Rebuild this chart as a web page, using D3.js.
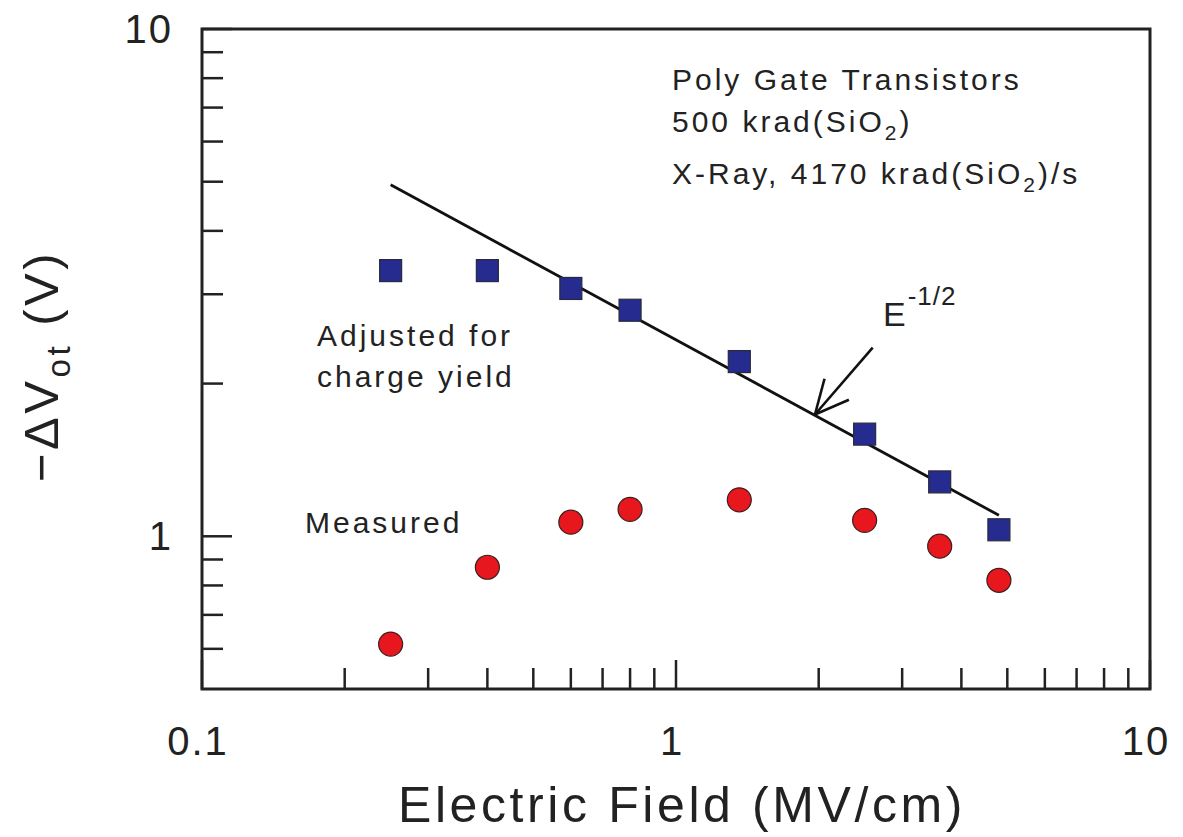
<!DOCTYPE html>
<html>
<head>
<meta charset="utf-8">
<script src="https://cdn.jsdelivr.net/npm/d3@7"></script>
<style>
  html, body { margin: 0; padding: 0; background: #fff; }
  svg { display: block; }
  text { font-family: "Liberation Sans", Arial, sans-serif; fill: #222; }
</style>
</head>
<body>
<svg id="chart" width="1183" height="837"></svg>
<script>
// ---- data ----
const fieldMVcm   = [0.25, 0.4, 0.6, 0.8, 1.36, 2.5, 3.6, 4.8];
const adjustedV   = [3.34, 3.34, 3.08, 2.79, 2.21, 1.59, 1.28, 1.03];
const measuredV   = [0.613, 0.869, 1.066, 1.13, 1.18, 1.075, 0.956, 0.819];
const fitLineX    = [0.25, 4.8];
const fitLineY    = [4.93, 1.10];
const arrowFrom   = [2.60, 2.355];
const arrowTo     = [1.964, 1.738];
const xMajorTicks = [0.1, 1, 10];
const xTickLabels = ["0.1", "1", "10"];
const yMajorTicks = [1, 10];
const yTickLabels = ["1", "10"];
const xDomain = [0.1, 10];
const yDomain = [0.5, 10];

const svg = d3.select("#chart");
const m = {left: 202, top: 29, right: 1183 - 1150, bottom: 837 - 689};
const W = 1183 - m.left - m.right, H = 837 - m.top - m.bottom;

const x = d3.scaleLog().domain(xDomain).range([0, W]);
const y = d3.scaleLog().domain(yDomain).range([H, 0]);

const g = svg.append("g").attr("transform", `translate(${m.left},${m.top})`);

// minor ticks
const xMinor = [];
[0.1, 1].forEach(d => { for (let k = 2; k <= 9; k++) xMinor.push(+(d * k).toFixed(3)); });
const yMinor = [];
[0.1, 1].forEach(d => { for (let k = 2; k <= 9; k++) { const v = +(d * k).toFixed(3); if (v > yDomain[0] && v < yDomain[1]) yMinor.push(v); } });

const tickColor = "#222";
g.selectAll(".xminor").data(xMinor).enter().append("line")
  .attr("x1", d => x(d)).attr("x2", d => x(d)).attr("y1", H).attr("y2", H - 21)
  .attr("stroke", tickColor).attr("stroke-width", 2.5);
g.selectAll(".xmajor").data(xMajorTicks).enter().append("line")
  .attr("x1", d => x(d)).attr("x2", d => x(d)).attr("y1", H).attr("y2", H - 29)
  .attr("stroke", tickColor).attr("stroke-width", 2.5);
g.selectAll(".yminor").data(yMinor).enter().append("line")
  .attr("y1", d => y(d)).attr("y2", d => y(d)).attr("x1", 0).attr("x2", 21)
  .attr("stroke", tickColor).attr("stroke-width", 2.5);
g.selectAll(".ymajor").data(yMajorTicks).enter().append("line")
  .attr("y1", d => y(d)).attr("y2", d => y(d)).attr("x1", 0).attr("x2", 30)
  .attr("stroke", tickColor).attr("stroke-width", 2.5);

// frame
g.append("rect").attr("x", 0).attr("y", 0).attr("width", W).attr("height", H)
  .attr("fill", "none").attr("stroke", "#222").attr("stroke-width", 3);

// tick labels
g.selectAll(".xlab").data(xMajorTicks).enter().append("text")
  .attr("x", d => x(d) - 4).attr("y", H + 66)
  .attr("text-anchor", "middle").attr("font-size", 40).attr("letter-spacing", 2)
  .text((d, i) => xTickLabels[i]);
g.selectAll(".ylab").data(yMajorTicks).enter().append("text")
  .attr("x", -29).attr("y", d => y(d) + 14)
  .attr("text-anchor", "end").attr("font-size", 40).attr("letter-spacing", 2)
  .text((d, i) => yTickLabels[i]);

// axis titles
svg.append("text").attr("x", 682).attr("y", 822)
  .attr("text-anchor", "middle").attr("font-size", 50).attr("letter-spacing", 3.6)
  .text("Electric Field (MV/cm)");
const yt = svg.append("text")
  .attr("transform", "translate(58,366) rotate(-90)")
  .attr("text-anchor", "middle").attr("font-size", 49).attr("letter-spacing", 3.5);
yt.append("tspan").text("\u2212\u0394V");
yt.append("tspan").attr("font-size", 33).attr("dy", 12).text("ot");
yt.append("tspan").attr("dy", -12).text(" (V)");

// fit line
const line = d3.line().x(d => x(d[0])).y(d => y(d[1]));
g.append("path").datum(d3.zip(fitLineX, fitLineY)).attr("d", line)
  .attr("fill", "none").attr("stroke", "#111").attr("stroke-width", 2.8);

// arrow
const ax1 = x(arrowFrom[0]), ay1 = y(arrowFrom[1]), ax2 = x(arrowTo[0]), ay2 = y(arrowTo[1]);
const ang = Math.atan2(ay2 - ay1, ax2 - ax1);
const headLen = 37, headAng = 0.45;
g.append("line").attr("x1", ax1).attr("y1", ay1).attr("x2", ax2).attr("y2", ay2)
  .attr("stroke", "#111").attr("stroke-width", 2.6);
[-1, 1].forEach(s => {
  g.append("line").attr("x1", ax2).attr("y1", ay2)
    .attr("x2", ax2 - headLen * Math.cos(ang + s * headAng))
    .attr("y2", ay2 - headLen * Math.sin(ang + s * headAng))
    .attr("stroke", "#111").attr("stroke-width", 2.6);
});

// markers
const sq = 22;
g.selectAll(".sq").data(d3.zip(fieldMVcm, adjustedV)).enter().append("rect")
  .attr("x", d => x(d[0]) - sq / 2).attr("y", d => y(d[1]) - sq / 2)
  .attr("width", sq).attr("height", sq)
  .attr("fill", "#252b8f").attr("stroke", "#2a2a3a").attr("stroke-width", 1.2);
g.selectAll(".ci").data(d3.zip(fieldMVcm, measuredV)).enter().append("circle")
  .attr("cx", d => x(d[0])).attr("cy", d => y(d[1])).attr("r", 12)
  .attr("fill", "#e8161d").attr("stroke", "#3a2020").attr("stroke-width", 1.2);

// annotations
const ann = g.append("g").attr("font-size", 30).attr("letter-spacing", 3);
ann.append("text").attr("x", 672 - m.left).attr("y", 90 - m.top).text("Poly Gate Transistors");
const t2 = ann.append("text").attr("x", 672 - m.left).attr("y", 132 - m.top);
t2.append("tspan").text("500 krad(SiO");
t2.append("tspan").attr("font-size", 21).attr("dy", 8).text("2");
t2.append("tspan").attr("dy", -8).text(")");
const t3 = ann.append("text").attr("x", 672 - m.left).attr("y", 184 - m.top);
t3.append("tspan").text("X-Ray, 4170 krad(SiO");
t3.append("tspan").attr("font-size", 21).attr("dy", 8).text("2");
t3.append("tspan").attr("dy", -8).text(")/s");

ann.append("text").attr("x", 317 - m.left).attr("y", 346 - m.top).text("Adjusted for");
ann.append("text").attr("x", 317 - m.left).attr("y", 387 - m.top).text("charge yield");
ann.append("text").attr("x", 305 - m.left).attr("y", 533 - m.top).text("Measured");

const te = ann.append("text").attr("x", 883 - m.left).attr("y", 326 - m.top).attr("letter-spacing", 1);
te.append("tspan").attr("font-size", 34).text("E");
te.append("tspan").attr("font-size", 26).attr("dy", -21).attr("dx", 1).text("-1/2");
</script>
</body>
</html>
